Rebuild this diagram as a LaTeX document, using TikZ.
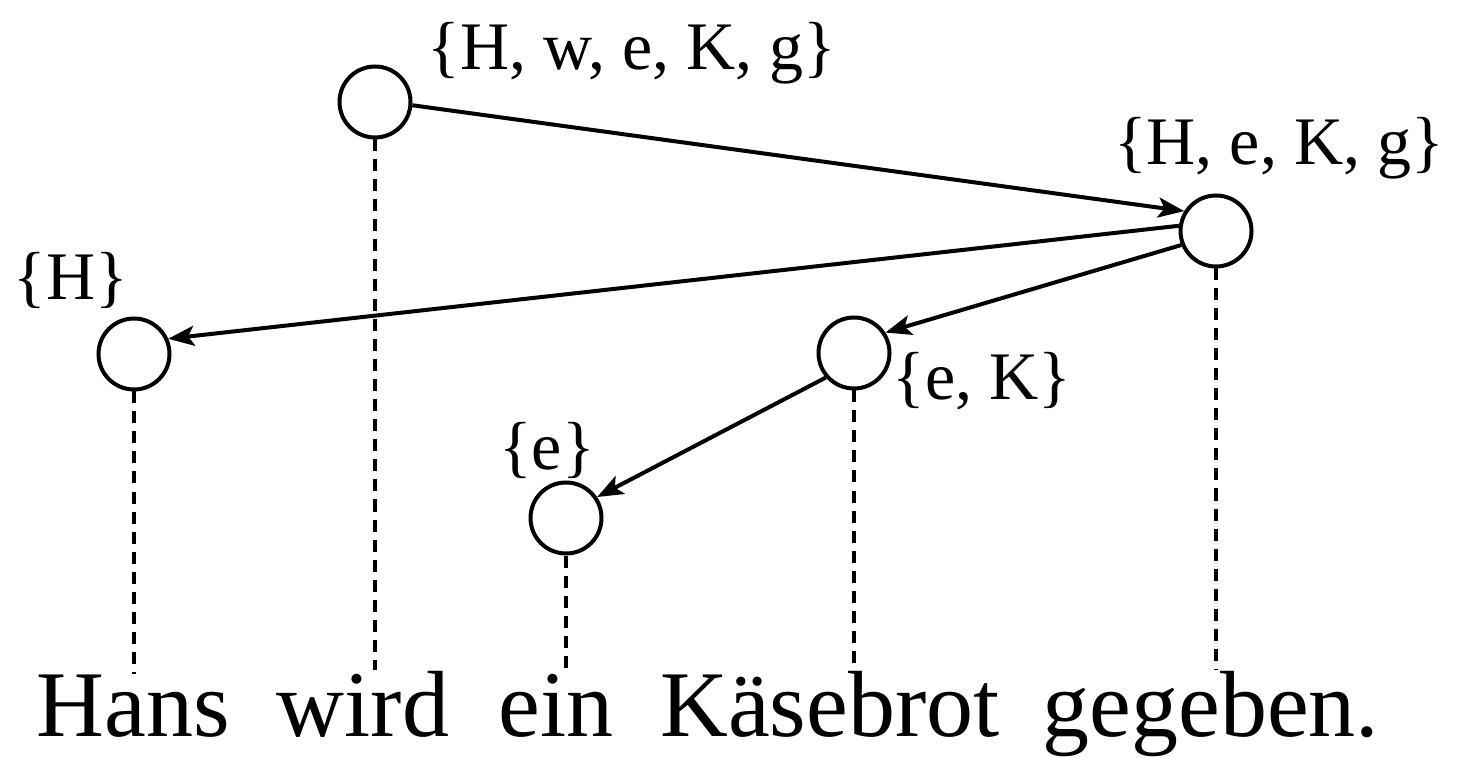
\documentclass[tikz,border=0pt]{standalone}
\usepackage{fontspec}
\setmainfont{Liberation Serif}
\usetikzlibrary{arrows.meta}

\begin{document}
\begin{tikzpicture}[x=0.5pt,y=-0.5pt,vtx/.style={circle,draw,line width=2pt,minimum size=35.5pt,inner sep=0pt},word/.style={font=\fontsize{47}{50}\selectfont,inner sep=0pt,anchor=base},set/.style={font=\fontsize{34}{38}\selectfont,inner sep=0pt,anchor=base},arr/.style={-{Stealth[length=13pt,width=10pt,inset=3pt]},line width=2pt},proj/.style={line width=2pt,dash pattern=on 6pt off 4pt}]
\useasboundingbox (0,0) rectangle (1460,758);
% sentence
\node[word] (hans) at (133,736) {Hans};
\node[word] (wird) at (363,736) {wird};
\node[word] (ein) at (556,736) {ein};
\node[word] (kaese) at (830,736) {Käsebrot};
\node[word] (geg) at (1211,736) {gegeben.};
% tree nodes
\node[vtx] (w) at (375,102) {};
\node[vtx] (g) at (1216,231) {};
\node[vtx] (H) at (134,354) {};
\node[vtx] (K) at (854,353) {};
\node[vtx] (e) at (566,518) {};
% sets
\node[set] (sw) at (632,70) {\{H, w, e, K, g\}};
\node[set] (sg) at (1279,165) {\{H, e, K, g\}};
\node[set] (sH) at (71,300) {\{H\}};
\node[set] (sK) at (982,400) {\{e, K\}};
\node[set] (se) at (547,470) {\{e\}};
% projection lines
\draw[proj] (H.south)--(H.south|-hans.north);\draw[proj] (w.south)--(w.south|-wird.north);\draw[proj] (e.south)--(e.south|-ein.north);\draw[proj] (K.south)--(K.south|-kaese.north);\draw[proj] (g.south)--(g.south|-geg.north);
% dependencies
\draw[arr] (w.-5)--(g.148);\draw[arr] (g.172)--(H.24);\draw[arr] (g.202)--(K.33);\draw[arr] (K.221)--(e.34);
\end{tikzpicture}
\end{document}
